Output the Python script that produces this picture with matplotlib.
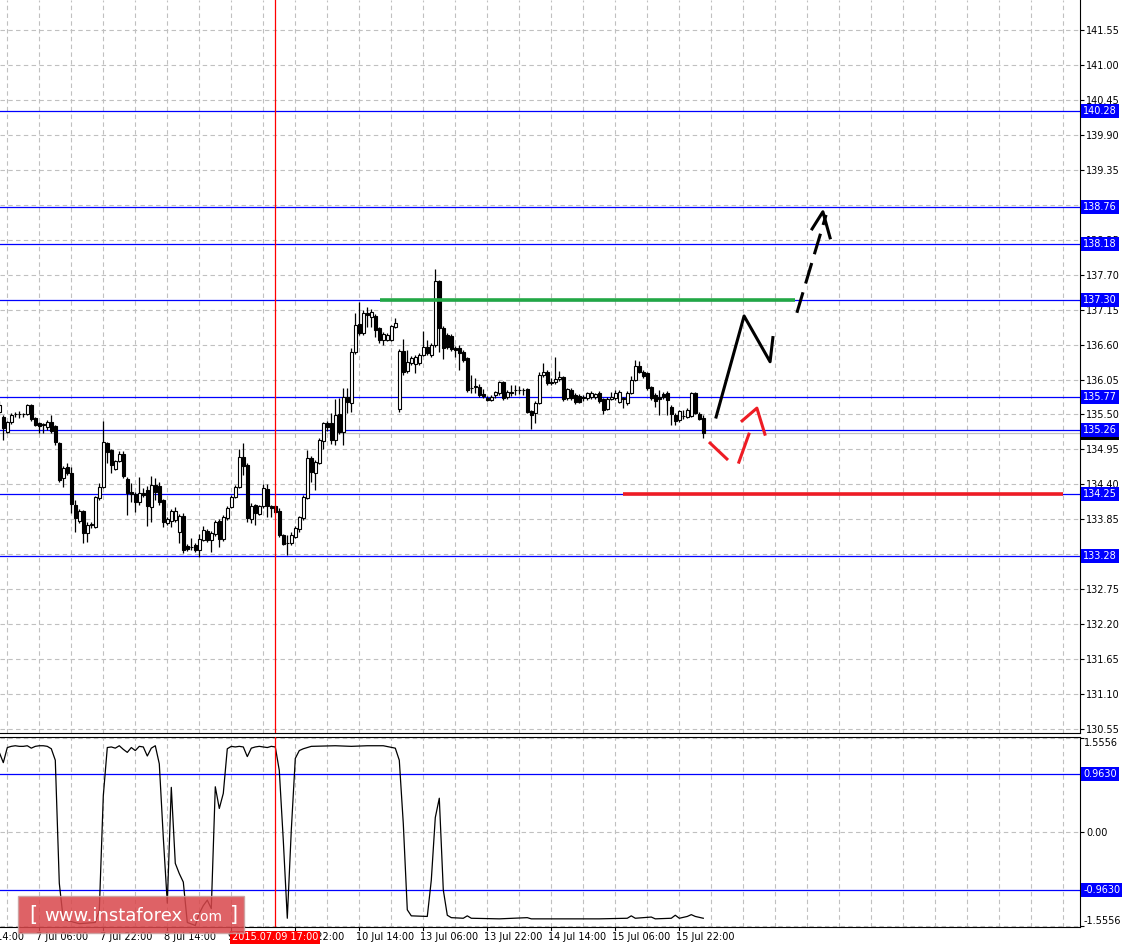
import numpy as np
import matplotlib.pyplot as plt
from matplotlib.patches import Rectangle
from matplotlib.transforms import blended_transform_factory

# hourly candles, one row per bar (open, high, low, close)
opens = [135.54, 135.46, 135.23, 135.38, 135.50, 135.51, 135.50, 135.51, 135.65, 135.45,
         135.37, 135.35, 135.30, 135.38, 135.32, 135.05, 134.50, 134.67, 134.58, 134.08,
         133.83, 133.98, 133.64, 133.76, 133.73, 134.19, 134.36, 135.05, 134.94, 134.64,
         134.77, 134.88, 134.49, 134.28, 134.25, 134.12, 134.27, 134.31, 134.05, 134.39,
         134.38, 134.15, 133.79, 133.83, 133.84, 133.65, 133.90, 133.43, 133.42, 133.45,
         133.37, 133.53, 133.67, 133.53, 133.62, 133.83, 133.54, 133.87, 134.05, 134.20,
         134.36, 134.83, 134.71, 133.86, 134.08, 133.93, 134.06, 134.33, 134.06, 134.06,
         133.98, 133.60, 133.48, 133.48, 133.57, 133.70, 133.87, 134.19, 134.82, 134.58,
         134.74, 135.08, 135.37, 135.37, 135.10, 135.51, 135.23, 135.78, 135.68, 136.48,
         136.93, 136.78, 137.10, 137.04, 137.05, 136.86, 136.67, 136.67, 136.67, 136.88,
         135.59, 136.50, 136.19, 136.31, 136.30, 136.31, 136.44, 136.56, 136.44, 136.60,
         137.60, 136.86, 136.75, 136.74, 136.55, 136.55, 136.48, 136.39, 135.92, 135.94,
         135.93, 135.82, 135.76, 135.73, 135.81, 135.84, 136.01, 135.78, 135.86, 135.89,
         135.88, 135.89, 135.90, 135.56, 135.52, 135.68, 136.12, 136.17, 136.01, 136.01,
         136.06, 136.09, 135.76, 135.89, 135.81, 135.79, 135.77, 135.76, 135.78, 135.78,
         135.84, 135.74, 135.59, 135.74, 135.76, 135.70, 135.74, 135.68, 135.84, 136.04,
         136.26, 136.17, 136.15, 135.93, 135.81, 135.78, 135.82, 135.84, 135.62, 135.49,
         135.41, 135.48, 135.46, 135.48, 135.84, 135.51, 135.45]
highs = [135.71, 135.49, 135.40, 135.52, 135.54, 135.55, 135.53, 135.67, 135.67, 135.46,
         135.38, 135.37, 135.41, 135.49, 135.34, 135.07, 134.69, 134.74, 134.67, 134.15,
         134.01, 134.00, 133.81, 133.81, 134.22, 134.42, 135.40, 135.07, 134.96, 134.78,
         134.93, 134.93, 134.52, 134.42, 134.28, 134.52, 134.35, 134.38, 134.53, 134.50,
         134.44, 134.17, 133.89, 134.01, 134.05, 133.94, 133.95, 133.46, 133.56, 133.48,
         133.62, 133.75, 133.70, 133.67, 133.84, 133.86, 133.92, 134.06, 134.23, 134.39,
         134.96, 135.05, 134.74, 134.11, 134.09, 134.08, 134.41, 134.41, 134.08, 134.08,
         134.03, 133.62, 133.60, 133.65, 133.75, 133.90, 134.23, 134.94, 134.85, 134.78,
         135.13, 135.38, 135.40, 135.52, 135.75, 135.76, 135.92, 135.92, 136.55, 137.10,
         137.27, 137.14, 137.19, 137.16, 137.08, 136.88, 136.80, 136.78, 136.91, 137.02,
         136.53, 136.69, 136.51, 136.42, 136.44, 136.47, 136.81, 136.67, 136.63, 137.79,
         137.62, 136.89, 136.78, 136.77, 136.58, 136.60, 136.51, 136.40, 136.12, 136.07,
         135.98, 135.90, 135.79, 135.81, 135.87, 136.03, 136.03, 135.89, 135.96, 135.96,
         135.95, 135.92, 135.92, 135.57, 135.71, 136.17, 136.31, 136.20, 136.07, 136.41,
         136.18, 136.11, 135.92, 135.92, 135.84, 135.82, 135.81, 135.86, 135.87, 135.84,
         135.87, 135.76, 135.78, 135.86, 135.89, 135.89, 135.78, 135.87, 136.11, 136.36,
         136.34, 136.20, 136.17, 135.95, 135.84, 135.89, 135.86, 135.87, 135.65, 135.52,
         135.57, 135.57, 135.60, 135.86, 135.86, 135.54, 135.49]
lows = [135.49, 135.10, 135.21, 135.35, 135.46, 135.45, 135.46, 135.49, 135.40, 135.32,
        135.21, 135.21, 135.26, 135.21, 135.02, 134.44, 134.36, 134.55, 133.95, 133.65,
        133.79, 133.48, 133.50, 133.71, 133.71, 134.15, 134.34, 134.74, 134.58, 134.63,
        134.75, 134.50, 133.92, 134.12, 133.97, 134.08, 134.20, 133.75, 133.81, 134.15,
        134.08, 133.73, 133.76, 133.73, 133.81, 133.48, 133.32, 133.35, 133.37, 133.34,
        133.26, 133.51, 133.50, 133.34, 133.59, 133.42, 133.51, 133.84, 134.03, 134.19,
        134.34, 134.55, 133.81, 133.79, 133.76, 133.92, 134.03, 133.89, 133.89, 133.94,
        133.57, 133.45, 133.29, 133.45, 133.56, 133.65, 133.84, 134.17, 134.44, 134.31,
        134.72, 134.96, 135.24, 135.04, 135.02, 135.19, 135.02, 135.52, 135.54, 136.45,
        136.75, 136.75, 136.88, 136.88, 136.72, 136.63, 136.59, 136.66, 136.66, 136.86,
        135.54, 136.12, 136.15, 136.28, 136.15, 136.28, 136.42, 136.44, 136.40, 136.56,
        136.48, 136.37, 136.53, 136.50, 136.40, 136.20, 136.33, 135.86, 135.84, 135.84,
        135.78, 135.76, 135.71, 135.71, 135.76, 135.81, 135.73, 135.75, 135.79, 135.81,
        135.82, 135.81, 135.52, 135.27, 135.37, 135.67, 136.09, 135.96, 135.96, 135.98,
        136.03, 135.71, 135.73, 135.73, 135.67, 135.68, 135.71, 135.73, 135.75, 135.75,
        135.68, 135.51, 135.57, 135.73, 135.73, 135.68, 135.60, 135.65, 135.82, 136.03,
        136.15, 136.07, 135.89, 135.73, 135.62, 135.49, 135.75, 135.49, 135.34, 135.34,
        135.38, 135.43, 135.45, 135.46, 135.51, 135.41, 135.13]
closes = [135.65, 135.29, 135.38, 135.49, 135.51, 135.50, 135.51, 135.65, 135.43, 135.34,
          135.32, 135.34, 135.38, 135.24, 135.07, 134.47, 134.66, 134.58, 134.09, 133.87,
          133.98, 133.64, 133.76, 133.77, 134.20, 134.36, 135.07, 134.91, 134.71, 134.77,
          134.88, 134.53, 134.27, 134.25, 134.12, 134.27, 134.23, 134.06, 134.39, 134.28,
          134.12, 133.81, 133.86, 133.98, 133.98, 133.90, 133.37, 133.38, 133.41, 133.37,
          133.54, 133.68, 133.53, 133.64, 133.81, 133.54, 133.89, 134.03, 134.20, 134.36,
          134.83, 134.69, 133.87, 134.06, 133.95, 134.06, 134.34, 134.06, 134.03, 133.97,
          133.60, 133.46, 133.47, 133.60, 133.71, 133.89, 134.20, 134.82, 134.60, 134.75,
          135.10, 135.37, 135.30, 135.10, 135.49, 135.23, 135.78, 135.70, 136.48, 136.91,
          136.78, 137.10, 137.07, 137.12, 136.83, 136.67, 136.77, 136.75, 136.89, 136.94,
          136.50, 136.17, 136.33, 136.39, 136.41, 136.44, 136.56, 136.47, 136.60, 137.60,
          136.86, 136.55, 136.56, 136.53, 136.52, 136.47, 136.36, 135.89, 135.91, 135.93,
          135.81, 135.79, 135.73, 135.78, 135.86, 136.01, 135.76, 135.86, 135.84, 135.88,
          135.89, 135.88, 135.54, 135.49, 135.68, 136.12, 136.17, 136.00, 136.00, 136.06,
          136.09, 135.74, 135.90, 135.76, 135.70, 135.70, 135.76, 135.84, 135.84, 135.82,
          135.71, 135.57, 135.74, 135.78, 135.84, 135.86, 135.75, 135.84, 136.04, 136.26,
          136.17, 136.11, 135.92, 135.76, 135.71, 135.74, 135.78, 135.73, 135.51, 135.40,
          135.56, 135.47, 135.57, 135.84, 135.52, 135.43, 135.21]

# oscillator in the lower pane (bar index, value)
osc_bar = [0, 1, 2, 3, 4, 5, 6, 7, 8, 9, 10, 11, 12, 13, 14, 15, 16, 20, 24, 25, 26, 27,
           28, 29, 30, 31, 32, 33, 34, 35, 36, 37, 38, 39, 40, 41, 42, 43, 44, 45, 46, 47,
           49, 50, 51, 52, 53, 54, 55, 56, 57, 58, 59, 60, 61, 62, 63, 64, 65, 66, 67, 68,
           69, 70, 71, 72, 73, 74, 75, 76, 77, 78, 84, 88, 92, 96, 99, 100, 101, 102, 103,
           107, 108, 109, 110, 111, 112, 113, 116, 117, 118, 125, 132, 133, 150, 157, 158,
           159, 163, 164, 168, 169, 170, 172, 173, 174, 176]
osc_val = [1.32, 1.15, 1.40, 1.42, 1.43, 1.42, 1.42, 1.43, 1.39, 1.42, 1.43, 1.43, 1.42,
           1.38, 1.19, -0.85, -1.45, -1.52, -1.50, -1.30, 0.60, 1.40, 1.41, 1.39, 1.43,
           1.37, 1.32, 1.40, 1.35, 1.42, 1.41, 1.26, 1.39, 1.43, 1.13, -0.09, -1.18, 0.74,
           -0.52, -0.69, -0.83, -1.50, -1.55, -1.35, -1.22, -1.13, -1.27, 0.75, 0.39, 0.64,
           1.38, 1.42, 1.41, 1.42, 1.41, 1.25, 1.39, 1.41, 1.42, 1.41, 1.40, 1.42, 1.41,
           1.02, -0.14, -1.43, 0.03, 1.22, 1.35, 1.38, 1.40, 1.42, 1.43, 1.42, 1.43, 1.43,
           1.39, 1.19, 0.14, -1.29, -1.39, -1.40, -0.80, 0.24, 0.56, -0.96, -1.38, -1.42,
           -1.43, -1.39, -1.43, -1.44, -1.42, -1.44, -1.44, -1.43, -1.39, -1.43, -1.41,
           -1.44, -1.43, -1.38, -1.43, -1.40, -1.37, -1.40, -1.43]

levels_blue = [140.28, 138.76, 138.18, 137.30, 135.77, 135.26, 134.25, 133.28]
osc_levels = [0.9630, -0.9630]
osc_edge = 1.5556
bid = 135.21
price_ticks = [141.55, 141.00, 140.45, 139.90, 139.35, 138.80, 138.25, 137.70, 137.15,
               136.60, 136.05, 135.50, 134.95, 134.40, 133.85, 133.30, 132.75, 132.20,
               131.65, 131.10, 130.55]
time_labels = ["6 Jul 14:00", "7 Jul 06:00", "7 Jul 22:00", "8 Jul 14:00", "9 Jul 06:00",
               "9 Jul 22:00", "10 Jul 14:00", "13 Jul 06:00", "13 Jul 22:00",
               "14 Jul 14:00", "15 Jul 06:00", "15 Jul 22:00"]
time_bars = [-6, 10, 26, 42, 58, 74, 90, 106, 122, 138, 154, 170]
cross_bar = 69
cross_label = "2015.07.09 17:00"

# hand drawn forecast (bar, price)
green_seg = ([95.2, 198.9], [137.30, 137.30])
red_seg = ([155.9, 265.9], [134.25, 134.25])
black_path = ([179.2, 186.2, 192.7, 193.4], [135.46, 137.05, 136.33, 136.71])
black_dash = ([199.4, 206.7], [137.10, 138.64])
black_head = ([203.2, 205.9, 207.7], [138.42, 138.69, 138.28])
red_dash1 = ([177.7, 181.9], [135.05, 134.80])
red_dash2 = ([184.9, 187.4], [134.75, 135.19])
red_head = ([185.7, 189.4, 191.4], [135.40, 135.60, 135.19])

W, H = 1122, 947
fig = plt.figure(figsize=(W / 100, H / 100), dpi=100)
ax = fig.add_axes([0, 1 - 733 / H, 1080 / W, 733 / H])
ax2 = fig.add_axes([0, 1 - 927 / H, 1080 / W, 190 / H], sharex=ax)

xlim = (0.175, 270.18)
grid_kw = dict(color='#c0c0c0', linestyle=(0, (4, 3)), linewidth=0.8)

# candles
o = np.array(opens); c = np.array(closes)
hi = np.array(highs); lo = np.array(lows)
bars = np.arange(len(o))
ax.vlines(bars, lo, hi, color='black', lw=0.9, zorder=3)
up = c >= o
body_lo = np.minimum(o, c)
body_h = np.maximum(np.abs(c - o), 0.012)
ax.bar(bars[up], body_h[up], bottom=body_lo[up], width=0.76, color='white',
       edgecolor='black', linewidth=0.8, zorder=4)
ax.bar(bars[~up], body_h[~up], bottom=body_lo[~up], width=0.76, color='black',
       edgecolor='black', linewidth=0.8, zorder=4)

for lv in levels_blue:
    ax.axhline(lv, color='#0000ff', lw=0.9, zorder=2)
ax.axhline(bid, color='#c0c0c0', lw=0.9, zorder=1.5)
ax.plot(*green_seg, color='#22a845', lw=2.6, zorder=5, solid_capstyle='butt')
ax.plot(*red_seg, color='#ee1c24', lw=2.6, zorder=5, solid_capstyle='butt')
ax.plot(*black_path, color='black', lw=2.2, zorder=6)
ax.plot(*black_dash, color='black', lw=2.2, zorder=6, dashes=(7, 3))
ax.plot(*black_head, color='black', lw=2.2, zorder=6)
ax.plot(*red_dash1, color='#ee1c24', lw=2.2, zorder=6)
ax.plot(*red_dash2, color='#ee1c24', lw=2.2, zorder=6)
ax.plot(*red_head, color='#ee1c24', lw=2.2, zorder=6)

ax.set_xlim(*xlim)
ax.set_ylim(130.488, 142.022)
ax.set_xticks(np.arange(2, 271, 8))
ax.set_yticks(price_ticks)
ax.grid(True, **grid_kw)
ax.set_axisbelow(True)
ax.tick_params(axis='x', length=0, labelbottom=False)
ax.yaxis.tick_right()
ax.tick_params(axis='y', length=3, width=0.8, pad=1.5, labelsize=7)
for s in ['left', 'top']:
    ax.spines[s].set_visible(False)

tr = blended_transform_factory(ax.transAxes, ax.transData)
ax.text(1.003, bid, f"{bid:.2f}", transform=tr, ha='left', va='center', fontsize=7,
        color='white', bbox=dict(boxstyle='square,pad=0.2', fc='black', ec='none'),
        zorder=10, clip_on=False)
for lv in levels_blue:
    ax.text(1.003, lv, f"{lv:.2f}", transform=tr, ha='left', va='center', fontsize=7,
            color='white', bbox=dict(boxstyle='square,pad=0.2', fc='#0000ff', ec='none'),
            zorder=11, clip_on=False)

# oscillator pane
ax2.plot(osc_bar, osc_val, color='black', lw=0.9, zorder=3)
for lv in osc_levels:
    ax2.axhline(lv, color='#0000ff', lw=0.9, zorder=2)
ax2.set_ylim(-1.575, 1.575)
ax2.set_yticks([osc_edge, 0.0, -osc_edge])
ax2.set_yticklabels(["", "0.00", ""])
ax2.grid(True, **grid_kw)
ax2.set_axisbelow(True)
ax2.yaxis.tick_right()
ax2.tick_params(axis='y', length=3, width=0.8, pad=1.5, labelsize=7)
ax2.tick_params(axis='x', length=0, labelbottom=False)
ax2.spines['left'].set_visible(False)
tr2 = blended_transform_factory(ax2.transAxes, ax2.transData)
ax2.text(1.0035, osc_edge, f"{osc_edge:.4f}", transform=tr2, ha='left', va='top',
         fontsize=7, clip_on=False)
ax2.text(1.0035, -osc_edge, f"{-osc_edge:.4f}", transform=tr2, ha='left', va='bottom',
         fontsize=7, clip_on=False)
for lv in osc_levels:
    ax2.text(1.003, lv, f"{lv:.4f}", transform=tr2, ha='left', va='center', fontsize=7,
             color='white', bbox=dict(boxstyle='square,pad=0.2', fc='#0000ff', ec='none'),
             zorder=11, clip_on=False)

# crosshair
ax.axvline(cross_bar, color='#ff0000', lw=0.9, zorder=7)
ax2.axvline(cross_bar, color='#ff0000', lw=0.9, zorder=7)

# time axis
trx = blended_transform_factory(ax2.transData, ax2.transAxes)
for b, lab in zip(time_bars, time_labels):
    ax2.text(b - 0.8, -0.055, lab, transform=trx, ha='left', va='center', fontsize=7,
             clip_on=False, zorder=1)
    ax2.plot([b, b], [0, -0.015], transform=trx, color='black', lw=0.8, clip_on=False)
ax2.text(cross_bar, -0.055, cross_label, transform=trx, ha='center', va='center',
         fontsize=7, color='white', clip_on=False, zorder=12,
         bbox=dict(boxstyle='square,pad=0.2', fc='#ff0000', ec='none'))

# watermark
fig.patches.append(Rectangle((18 / W, 1 - 933 / H), 226 / W, 37 / H, transform=fig.transFigure,
                             fc='#d9474b', ec='#c9a0a0', lw=1.0, alpha=0.85, zorder=20))
wb = 1 - 921 / H
fig.text(29 / W, wb, "[", ha='left', va='baseline', fontsize=15, color='white', zorder=21)
fig.text(44 / W, wb, "www.instaforex", ha='left', va='baseline', fontsize=13,
         color='white', zorder=21)
fig.text(188 / W, wb, ".com", ha='left', va='baseline', fontsize=10, color='white',
         zorder=21)
fig.text(230 / W, wb, "]", ha='left', va='baseline', fontsize=15, color='white', zorder=21)

fig.savefig('out.png', dpi=100)
